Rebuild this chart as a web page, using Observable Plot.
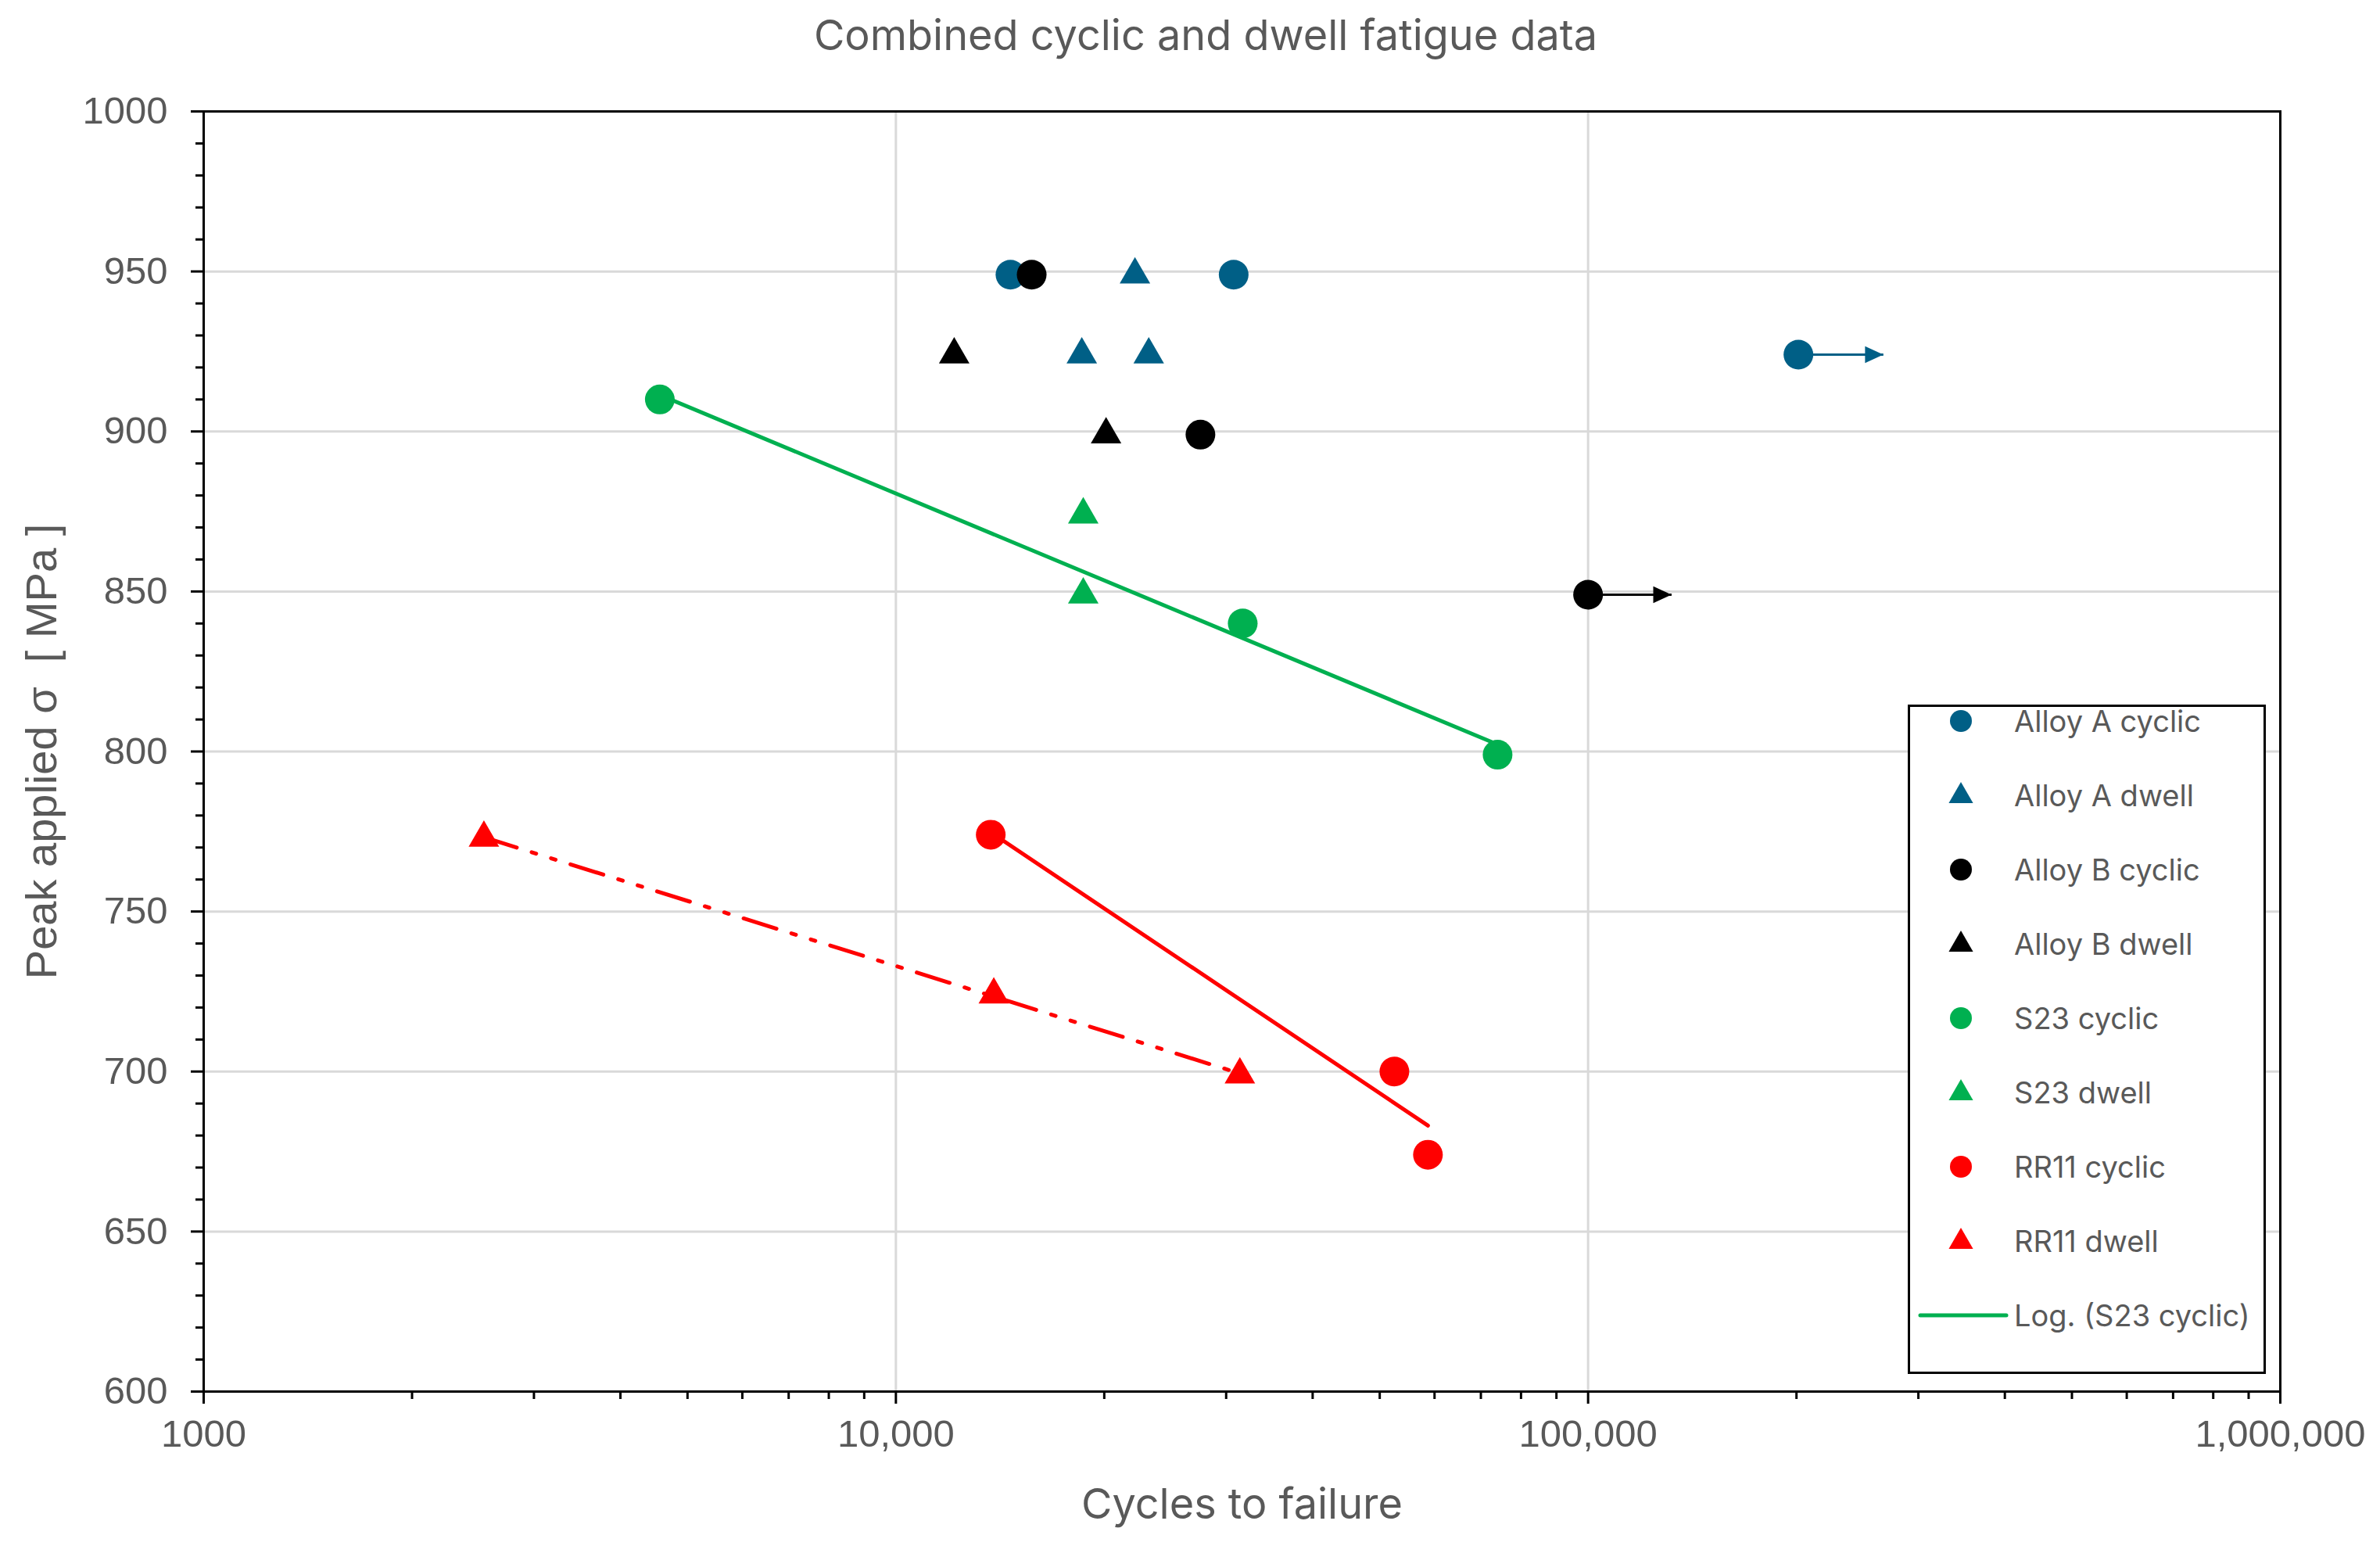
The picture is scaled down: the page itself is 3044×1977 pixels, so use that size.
<!DOCTYPE html>
<html>
<head>
<meta charset="utf-8">
<script src="https://cdn.jsdelivr.net/npm/d3@7"></script>
<script src="https://cdn.jsdelivr.net/npm/@observablehq/plot@0.6"></script>
<style>
  body { margin: 0; background: white; }
  #wrap { position: relative; width: 3044px; height: 1977px; }
  #title { height: 96px; line-height: 90px; text-align: center; padding-left: 40px; box-sizing: border-box;
    font-family: Inter, sans-serif; font-size: 54px; color: #595959; }
  #legend { position: absolute; left: 2440px; top: 901px; width: 458px; height: 856px;
    border: 3px solid black; box-sizing: border-box; background: white; font-family: Inter, sans-serif;
    font-size: 38px; color: #595959; }
  .row { position: absolute; left: 0; height: 60px; width: 100%; }
  .row svg { position: absolute; left: 0; top: 0; }
  .row span { position: absolute; left: 133px; top: 0; line-height: 60px; white-space: nowrap; }
</style>
</head>
<body>
<div id="wrap">
  <div id="title"></div>
  <div id="chart"></div>
  <div id="legend"></div>
</div>
<script>
const chartTitle = "Combined cyclic and dwell fatigue data"
const xTitle = "Cycles to failure"
const yTitle = "Peak applied σ  [ MPa ]"

// cycles to failure / peak stress
const alloyACyclicX = [14640, 30760, 201300]
const alloyACyclicY = [949, 949, 924]
const alloyADwellX = [22150, 18560, 23190]
const alloyADwellY = [949, 924, 924]
const alloyBCyclicX = [15710, 27540, 100000]
const alloyBCyclicY = [949, 899, 849]
const alloyBDwellX = [12140, 20120]
const alloyBDwellY = [924, 899]
const s23CyclicX = [4560, 31700, 74000]
const s23CyclicY = [910, 840, 799]
const s23DwellX = [18650, 18650]
const s23DwellY = [874, 849]
const rr11CyclicX = [13710, 52500, 58700]
const rr11CyclicY = [774, 700, 674]
const rr11DwellX = [2540, 13850, 31400]
const rr11DwellY = [773, 724, 699]

// run-outs (test stopped without failure)
const runoutFrom = [201300, 100000]
const runoutTo = [267000, 132000]
const runoutY = [924, 849]
const runoutSeries = ["Alloy A cyclic", "Alloy B cyclic"]

const xTicks = [1000, 10000, 100000, 1000000]
const xTickLabels = ["1000", "10,000", "100,000", "1,000,000"]
const yTicks = [600, 650, 700, 750, 800, 850, 900, 950, 1000]

const teal = "#005F86", green = "#00B050", red = "#FF0000"

const series = [
  {name: "Alloy A cyclic", xs: alloyACyclicX, ys: alloyACyclicY, symbol: "circle", color: teal},
  {name: "Alloy A dwell", xs: alloyADwellX, ys: alloyADwellY, symbol: "triangle", color: teal},
  {name: "Alloy B cyclic", xs: alloyBCyclicX, ys: alloyBCyclicY, symbol: "circle", color: "black"},
  {name: "Alloy B dwell", xs: alloyBDwellX, ys: alloyBDwellY, symbol: "triangle", color: "black"},
  {name: "S23 cyclic", xs: s23CyclicX, ys: s23CyclicY, symbol: "circle", color: green},
  {name: "S23 dwell", xs: s23DwellX, ys: s23DwellY, symbol: "triangle", color: green},
  {name: "RR11 cyclic", xs: rr11CyclicX, ys: rr11CyclicY, symbol: "circle", color: red},
  {name: "RR11 dwell", xs: rr11DwellX, ys: rr11DwellY, symbol: "triangle", color: red}
]
const colorOf = name => series.find(s => s.name === name).color

// Excel style logarithmic trendline: y = a + b ln(x), drawn between min and max x
function logTrend(xs, ys) {
  let lx = xs.map(Math.log)
  let mx = d3.mean(lx), my = d3.mean(ys)
  let b = d3.sum(lx, (v, i) => (v - mx) * (ys[i] - my)) / d3.sum(lx, v => (v - mx) ** 2)
  let a = my - b * mx
  return d3.extent(xs).map(x => ({x, y: a + b * Math.log(x)}))
}

// filled arrow head, tip at the point
const arrowHead = {
  draw(context, size) {
    let r = Math.sqrt(size / Math.PI)
    context.moveTo(0, 0)
    context.lineTo(-2.6 * r, -1.2 * r)
    context.lineTo(-2.6 * r, 1.2 * r)
    context.closePath()
  }
}

const minorX = d3.range(3, 6).flatMap(e => d3.range(2, 10).map(k => k * 10 ** e))
const minorY = d3.range(600, 1001, 10).filter(v => v % 50 !== 0)
const runouts = runoutFrom.map((x, i) => ({x, x2: runoutTo[i], y: runoutY[i], c: colorOf(runoutSeries[i])}))

let marks = [
  Plot.gridY(yTicks, {stroke: "#D9D9D9", strokeOpacity: 1, strokeWidth: 3}),
  Plot.gridX(xTicks, {stroke: "#D9D9D9", strokeOpacity: 1, strokeWidth: 3}),
  Plot.axisY(minorY, {label: null, tickSize: 10, tickFormat: () => "", stroke: "black", strokeWidth: 3}),
  Plot.axisY(yTicks, {label: null, tickSize: 16, tickPadding: 30, tickFormat: d => String(d), stroke: "black", strokeWidth: 3, fill: "#595959", fontSize: 49}),
  Plot.axisX(minorX, {label: null, tickSize: 10, tickFormat: () => "", stroke: "black", strokeWidth: 3}),
  Plot.axisX(xTicks, {label: null, tickSize: 16, tickPadding: 20, tickFormat: d => xTickLabels[xTicks.indexOf(d)], stroke: "black", strokeWidth: 3, fill: "#595959", fontSize: 49}),
  Plot.line(logTrend(s23CyclicX, s23CyclicY), {x: "x", y: "y", stroke: green, strokeWidth: 5}),
  Plot.line(logTrend(rr11CyclicX, rr11CyclicY), {x: "x", y: "y", stroke: red, strokeWidth: 5}),
  Plot.line(logTrend(rr11DwellX, rr11DwellY), {x: "x", y: "y", stroke: red, strokeWidth: 5, strokeDasharray: "44,20,6,20,6,20"}),
  Plot.link(runouts, {x1: "x", x2: "x2", y1: "y", y2: "y", stroke: d => d.c, strokeWidth: 3}),
  Plot.dot(runouts, {x: "x2", y: "y", symbol: arrowHead, r: 9, fill: d => d.c, stroke: null})
]
for (let s of series) {
  let pts = s.xs.map((x, i) => ({x, y: s.ys[i]}))
  marks.push(Plot.dot(pts, {x: "x", y: "y", symbol: s.symbol, r: s.symbol === "circle" ? 19 : 14.5, fill: s.color, stroke: null}))
}
marks.push(
  Plot.frame({stroke: "black", strokeWidth: 3}),
  Plot.text([xTitle], {frameAnchor: "bottom", dy: 145, fontSize: 54, fill: "#595959", fontFamily: "Inter", lineAnchor: "middle"}),
  Plot.text([yTitle], {frameAnchor: "left", dx: -206, rotate: -90, fontSize: 56, fill: "#595959", textAnchor: "middle", lineAnchor: "middle"})
)

let chart = Plot.plot({
  width: 3044,
  height: 1881,
  marginTop: 46,
  marginBottom: 198,
  marginLeft: 260,
  marginRight: 128,
  style: {fontFamily: "Liberation Sans", background: "white"},
  x: {type: "log", domain: [1000, 1000000]},
  y: {domain: [600, 1000]},
  marks
})
d3.select("#chart").append(() => chart)
d3.select("#title").text(chartTitle)

// legend box drawn inside the plot area, as in the original
let legendItems = series.map(s => ({name: s.name, symbol: s.symbol, color: s.color}))
legendItems.push({name: "Log. (S23 cyclic)", symbol: "line", color: green})
let legend = d3.select("#legend")
legendItems.forEach((d, i) => {
  let row = legend.append("div").attr("class", "row").style("top", (21 + 95 * i - 30 - 3) + "px")
  let svg = row.append("svg").attr("width", 130).attr("height", 60)
  if (d.symbol === "circle") svg.append("circle").attr("cx", 65).attr("cy", 30).attr("r", 14).attr("fill", d.color)
  else if (d.symbol === "triangle") svg.append("path").attr("transform", "translate(65,31)")
    .attr("d", d3.symbol(d3.symbolTriangle, 420)()).attr("fill", d.color)
  else svg.append("line").attr("x1", 13).attr("x2", 123).attr("y1", 30).attr("y2", 30)
    .attr("stroke", d.color).attr("stroke-width", 5).attr("stroke-linecap", "round")
  row.append("span").text(d.name)
})
</script>
</body>
</html>
